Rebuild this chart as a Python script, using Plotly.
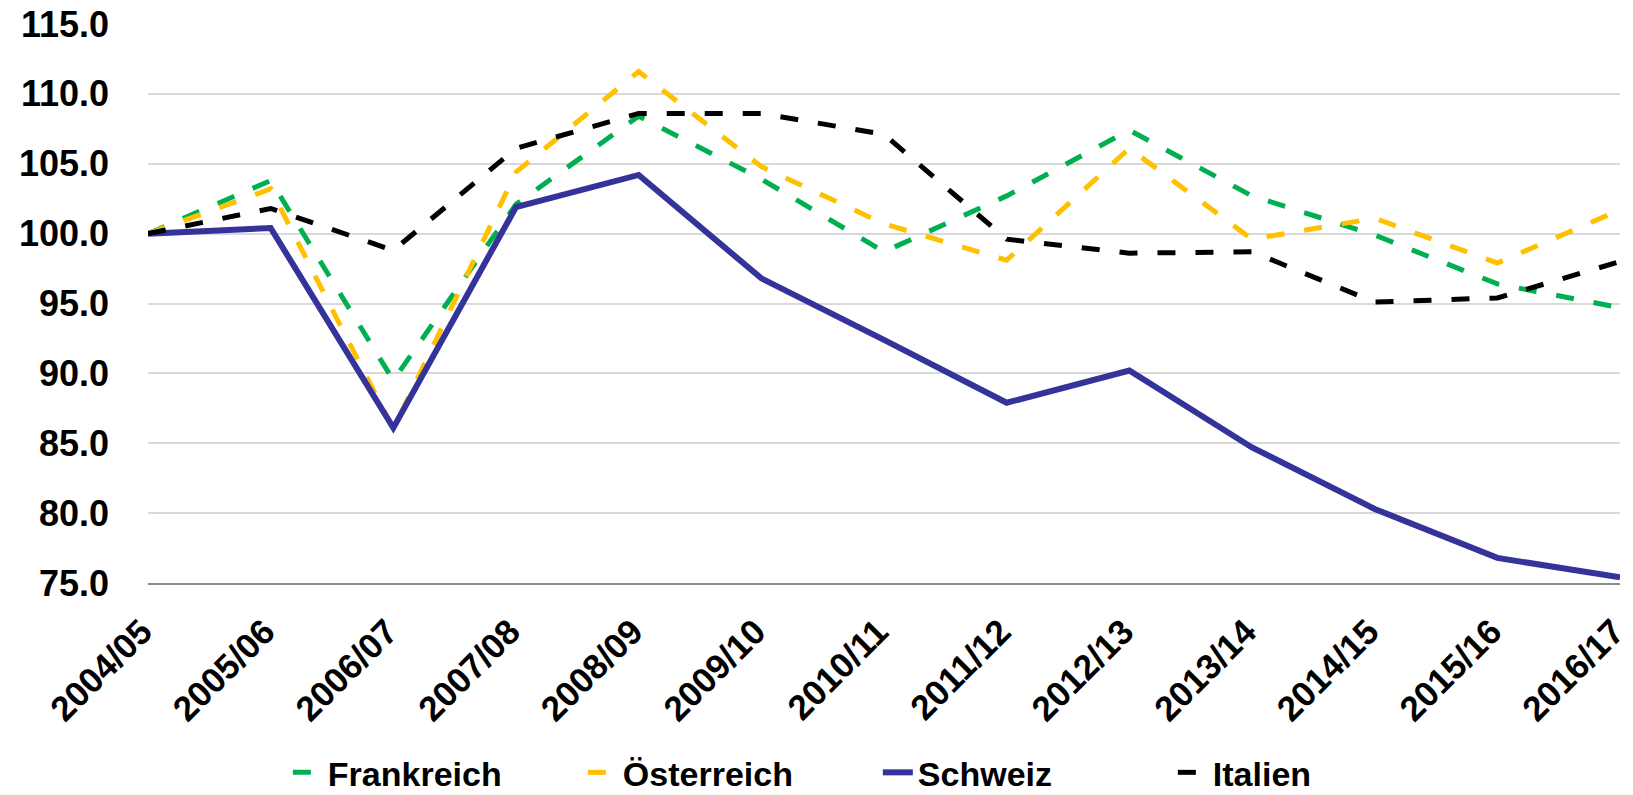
import plotly.graph_objects as go

years = ["2004/05", "2005/06", "2006/07", "2007/08", "2008/09", "2009/10", "2010/11",
         "2011/12", "2012/13", "2013/14", "2014/15", "2015/16", "2016/17"]

frankreich = [100.0, 103.8, 89.5, 102.1, 108.4, 103.9, 98.7, 102.7, 107.4, 102.7, 99.9, 96.4, 94.7]
oesterreich = [100.0, 103.2, 86.0, 104.4, 111.6, 104.8, 100.7, 98.1, 106.1, 99.6, 101.1, 97.9, 101.7]
schweiz = [100.0, 100.4, 86.1, 101.9, 104.2, 96.8, 92.4, 87.9, 90.2, 84.7, 80.3, 76.8, 75.4]
italien = [100.0, 101.8, 98.8, 106.1, 108.6, 108.6, 107.1, 99.6, 98.6, 98.7, 95.1, 95.4, 98.0]

y_ticks = [75, 80, 85, 90, 95, 100, 105, 110, 115]

FONT = "Liberation Sans, Arial, sans-serif"
DASH = "18px,20px"

fig = go.Figure()
fig.add_trace(go.Scatter(x=years, y=frankreich, name="Frankreich", mode="lines",
                         line=dict(color="#00B050", width=5, dash=DASH)))
fig.add_trace(go.Scatter(x=years, y=oesterreich, name="Österreich", mode="lines",
                         line=dict(color="#FFC000", width=5, dash=DASH)))
fig.add_trace(go.Scatter(x=years, y=schweiz, name="Schweiz", mode="lines",
                         line=dict(color="#333399", width=6)))
fig.add_trace(go.Scatter(x=years, y=italien, name="Italien", mode="lines",
                         line=dict(color="#000000", width=5, dash=DASH)))

fig.update_layout(
    width=1633, height=795,
    margin=dict(l=148, r=13, t=24, b=212),
    plot_bgcolor="white", paper_bgcolor="white",
    font=dict(family=FONT, size=34, color="black"),
    showlegend=True,
    legend=dict(orientation="h", x=0.095, xanchor="left",
                yref="container", y=0.028, yanchor="middle",
                font=dict(family=FONT, size=34, color="black", weight="bold"),
                entrywidth=250, entrywidthmode="pixels", tracegroupgap=0),
    xaxis=dict(type="category", range=[0, 12], showgrid=False, showline=True,
               linecolor="#8C8C8C", linewidth=2, ticks="", tickangle=-45,
               automargin=False, ticklabelstandoff=12, ticklabelshift=-6,
               tickfont=dict(family=FONT, size=35, color="black", weight="bold")),
    yaxis=dict(range=[75, 115], tickvals=y_ticks, tickformat=".1f", showgrid=True,
               gridcolor="#D9D9D9", gridwidth=2, zeroline=False, showline=False,
               ticks="", ticklabelstandoff=38, automargin=False,
               tickfont=dict(family=FONT, size=36, color="black", weight="bold")),
)

fig.write_html("out.html", config={"displayModeBar": False},
               post_script="document.body.style.margin='0';document.body.style.overflow='hidden';")
